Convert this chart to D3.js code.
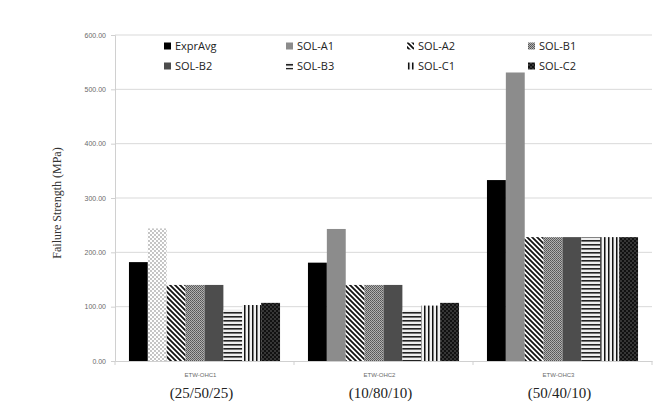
<!DOCTYPE html>
<html><head><meta charset="utf-8">
<script src="https://cdn.jsdelivr.net/npm/d3@7"></script>
<style>body{margin:0;background:#fff}</style>
</head><body><svg id="c" width="671" height="413"></svg>
<script>
const categories = ["ETW-OHC1","ETW-OHC2","ETW-OHC3"];
const ratios = ["(25/50/25)","(10/80/10)","(50/40/10)"];
const seriesNames = ["ExprAvg","SOL-A1","SOL-A2","SOL-B1","SOL-B2","SOL-B3","SOL-C1","SOL-C2"];
const ExprAvg = [182, 181, 333];
const SOL_A1 = [244, 243, 531];
const SOL_A2 = [140, 140, 228];
const SOL_B1 = [140, 140, 228];
const SOL_B2 = [140, 140, 228];
const SOL_B3 = [94, 93, 228];
const SOL_C1 = [103, 102, 228];
const SOL_C2 = [107, 107, 228];
const yTicks = [0,100,200,300,400,500,600];
const values = [ExprAvg,SOL_A1,SOL_A2,SOL_B1,SOL_B2,SOL_B3,SOL_C1,SOL_C2];

const svg = d3.select("#c");
const defs = svg.append("defs");
function pat(id, w, h, draw){
  const p = defs.append("pattern").attr("id",id).attr("patternUnits","userSpaceOnUse").attr("width",w).attr("height",h);
  draw(p); return "url(#"+id+")";
}
const fills = [
  "#000",
  "#8c8c8c",
  pat("a2",5,5,p=>{p.append("rect").attr("width",5).attr("height",5).attr("fill","#fff");
    p.append("path").attr("d","M-1,-1 L6,6 M-1,4 L1,6 M4,-1 L6,1").attr("stroke","#111").attr("stroke-width",1.8);}),
  pat("b1",2,2,p=>{p.append("rect").attr("width",2).attr("height",2).attr("fill","#b0b0b0");
    p.append("rect").attr("width",1).attr("height",1).attr("fill","#555");
    p.append("rect").attr("x",1).attr("y",1).attr("width",1).attr("height",1).attr("fill","#666");}),
  "#4d4d4d",
  pat("b3",4,4,p=>{p.append("rect").attr("width",4).attr("height",4).attr("fill","#eee");
    p.append("rect").attr("width",4).attr("height",1.6).attr("fill","#222");}),
  pat("c1",4,4,p=>{p.append("rect").attr("width",4).attr("height",4).attr("fill","#f2f2f2");
    p.append("rect").attr("width",1.5).attr("height",4).attr("fill","#111");}),
  pat("c2",4,4,p=>{p.append("rect").attr("width",4).attr("height",4).attr("fill","#111");
    p.append("circle").attr("cx",1).attr("cy",1).attr("r",0.7).attr("fill","#777");
    p.append("circle").attr("cx",3).attr("cy",3).attr("r",0.7).attr("fill","#777");})
];
const a1dots = pat("a1d",4,4,p=>{p.append("rect").attr("width",4).attr("height",4).attr("fill","#fff");
  p.append("circle").attr("cx",1).attr("cy",1).attr("r",0.9).attr("fill","#aaa");
  p.append("circle").attr("cx",3).attr("cy",3).attr("r",0.9).attr("fill","#aaa");});

const L=115, R=652, T=35, B=361;
const x0 = d3.scaleBand().domain(categories).range([L,R]).paddingInner(0.156).paddingOuter(0.078);
const x1 = d3.scaleBand().domain(seriesNames).range([0,x0.bandwidth()]);
const y = d3.scaleLinear().domain([0,600]).range([B,T]);

svg.append("g").selectAll("line").data(yTicks.slice(1)).join("line")
  .attr("x1",L).attr("x2",R).attr("y1",d=>y(d)).attr("y2",d=>y(d))
  .attr("stroke","#d9d9d9").attr("stroke-width",1);

const ya = svg.append("g").attr("transform",`translate(${L},0)`)
  .call(d3.axisLeft(y).tickValues(yTicks).tickSize(4).tickPadding(5).tickFormat(d3.format(".2f")));
ya.select(".domain").attr("stroke","#d0d0d0");
ya.selectAll(".tick line").attr("stroke","#d0d0d0");
ya.selectAll("text").attr("fill","#6a6a6a").style("font-family","Liberation Sans, Arial").style("font-size","7px");

const g = svg.append("g");
categories.forEach((c,ci)=>{
  seriesNames.forEach((s,si)=>{
    g.append("rect").attr("x",x0(c)+x1(s)).attr("width",x1.bandwidth())
      .attr("y",y(values[si][ci])).attr("height",B-y(values[si][ci]))
      .attr("fill",(si===1&&ci===0)?a1dots:fills[si]);
  });
});

const xa = svg.append("g").attr("transform",`translate(0,${B})`)
  .call(d3.axisBottom(x0).tickSize(0).tickFormat(""));
xa.select(".domain").attr("stroke","#d0d0d0");
xa.selectAll(".tick").remove();
const bounds = [L, ...categories.map(c=>x0(c)+x0.bandwidth()+x0.step()*x0.paddingInner()/2)];
svg.append("g").selectAll("line").data(bounds).join("line")
  .attr("x1",d=>d).attr("x2",d=>d).attr("y1",B).attr("y2",B+4).attr("stroke","#d0d0d0");

svg.append("g").selectAll("text").data(categories).join("text")
  .attr("x",d=>x0(d)+x0.bandwidth()/2-4).attr("y",377).attr("text-anchor","middle")
  .attr("fill","#6a6a6a").style("font-family","Liberation Sans, Arial").style("font-size","6px").text(d=>d);
svg.append("g").selectAll("text").data(ratios).join("text")
  .attr("x",(d,i)=>x0(categories[i])+x0.bandwidth()/2-3).attr("y",398).attr("text-anchor","middle")
  .attr("fill","#222").style("font-family","Liberation Serif, Times New Roman").style("font-size","15px").text(d=>d);

svg.append("text").attr("transform","translate(61,203) rotate(-90)").attr("text-anchor","middle")
  .attr("fill","#333").style("font-family","Liberation Serif, Times New Roman").style("font-size","12px")
  .text("Failure Strength (MPa)");

const colX = [164,286,407,528], rowY=[46,66];
const lg = svg.append("g");
seriesNames.forEach((s,i)=>{
  const cx=colX[i%4], cy=rowY[Math.floor(i/4)];
  lg.append("rect").attr("x",cx).attr("y",cy-3.5).attr("width",7).attr("height",7).attr("fill",fills[i]);
  lg.append("text").attr("x",cx+11).attr("y",cy+4).attr("fill","#222")
    .style("font-family","Open Sans, Liberation Sans").style("font-size","11px").text(s);
});
</script></body></html>
